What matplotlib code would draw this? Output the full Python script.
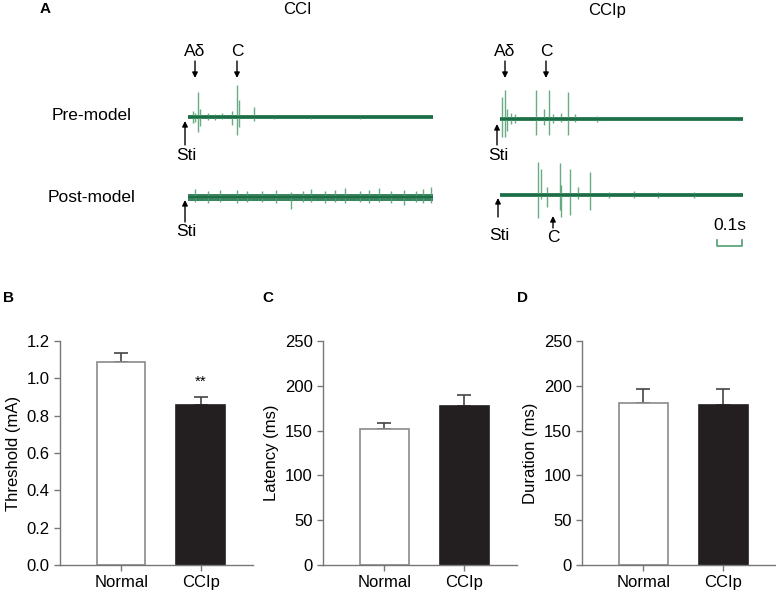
import matplotlib.pyplot as plt
from matplotlib.patches import FancyArrowPatch

plt.rcParams['font.family'] = ['Liberation Sans', 'DejaVu Sans']

# --- panel A: recordings (time in s, spike amplitudes up/down in arbitrary units) ---
trace_len = 1.0
scale_bar_s = 0.1

cci_pre_t = [0.02, 0.03, 0.041, 0.05, 0.08, 0.11, 0.14, 0.18, 0.20, 0.21, 0.27, 0.35, 0.5, 0.7]
cci_pre_up = [6, 4, 25, 8, 4, 3, 4, 6, 32, 17, 10, 2, 2, 2]
cci_pre_dn = [6, 5, 15, 9, 3, 3, 2, 8, 18, 10, 4, 2, 2, 2]

ccip_pre_t = [0.008, 0.02, 0.03, 0.045, 0.06, 0.15, 0.18, 0.20, 0.22, 0.25, 0.28, 0.31, 0.40]
ccip_pre_up = [22, 29, 10, 6, 5, 29, 10, 29, 5, 6, 27, 5, 3]
ccip_pre_dn = [18, 18, 12, 5, 4, 16, 6, 16, 4, 3, 16, 3, 3]

cci_post_t = [0.03, 0.08, 0.13, 0.20, 0.24, 0.30, 0.36, 0.42, 0.47, 0.50, 0.56,
              0.60, 0.64, 0.70, 0.74, 0.78, 0.83, 0.88, 0.93, 0.96, 0.99]
cci_post_up = [8, 6, 7, 7, 6, 6, 7, 5, 6, 8, 6, 7, 9, 6, 7, 9, 6, 7, 6, 8, 10]
cci_post_dn = [5, 6, 5, 6, 5, 5, 6, 12, 5, 5, 6, 5, 6, 5, 6, 5, 6, 8, 5, 6, 6]

ccip_post_t = [0.155, 0.17, 0.195, 0.245, 0.25, 0.29, 0.32, 0.37, 0.45, 0.55, 0.65, 0.8]
ccip_post_up = [33, 26, 8, 32, 10, 26, 8, 23, 3, 4, 3, 3]
ccip_post_dn = [23, 4, 12, 15, 22, 20, 4, 15, 3, 3, 3, 3]

# --- panels B-D: group means and SEM ---
groups = ['Normal', 'CCIp']
threshold = [1.085, 0.855]
threshold_err = [0.053, 0.046]
latency = [152, 177]
latency_err = [7, 13]
duration = [181, 179]
duration_err = [15, 17]

W, H = 776, 590
fig = plt.figure(figsize=(W / 100, H / 100), dpi=100)


def px_axes(left, top, width, height):
    return fig.add_axes([left / W, 1 - (top + height) / H, width / W, height / H])


green = '#1b6e45'
spike_green = '#4f9e70'


def draw_trace(left, base, width, t, up, dn, noise):
    ax = px_axes(left, base - 40, width, 80)
    ax.set_xlim(0, trace_len)
    ax.set_ylim(-40, 40)
    ax.axis('off')
    ax.vlines(t, [-d for d in dn], up, color=spike_green, lw=1.0, alpha=0.85)
    ax.fill_between([0, trace_len], -noise, noise, color=green, alpha=0.85, lw=0)
    ax.plot([0, trace_len], [0, 0], color=green, lw=1.6)
    return ax


draw_trace(188, 117, 245, cci_pre_t, cci_pre_up, cci_pre_dn, 1.6)
draw_trace(188, 197, 245, cci_post_t, cci_post_up, cci_post_dn, 3.5)
draw_trace(500, 119, 243, ccip_pre_t, ccip_pre_up, ccip_pre_dn, 1.6)
ax_sb = draw_trace(500, 195, 243, ccip_post_t, ccip_post_up, ccip_post_dn, 1.8)

# scale bar
sb0 = 0.895
ax_sb.plot([sb0, sb0, sb0 + scale_bar_s, sb0 + scale_bar_s], [-45, -51, -51, -45],
           color=spike_green, lw=1.2, clip_on=False)
ax_sb.text(sb0 + scale_bar_s / 2, -30, '0.1s', ha='center', va='center', fontsize=12.5)

# overlay for labels and arrows (pixel coordinates)
ov = fig.add_axes([0, 0, 1, 1])
ov.set_xlim(0, W)
ov.set_ylim(H, 0)
ov.axis('off')


def arrow(x, y0, y1):
    ov.add_patch(FancyArrowPatch((x, y0), (x, y1), arrowstyle='-|>', mutation_scale=8,
                                 lw=1.0, color='black', shrinkA=0, shrinkB=0))


fs = 12.5
ov.text(45, 9, 'A', fontsize=11, fontweight='bold', ha='center', va='center')
ov.text(297, 10, 'CCI', fontsize=12, ha='center', va='center')
ov.text(607, 10, 'CCIp', fontsize=12, ha='center', va='center')
ov.text(92, 116, 'Pre-model', fontsize=fs, ha='center', va='center')
ov.text(92, 197, 'Post-model', fontsize=fs, ha='center', va='center')

for x, lab in [(195, 'Aδ'), (237, 'C'), (505, 'Aδ'), (546, 'C')]:
    ov.text(x, 51, lab, fontsize=fs, ha='center', va='center')
    arrow(x, 61, 78)

for x, y0, y1, ty in [(185, 145, 121, 156), (185, 222, 200, 232),
                      (497, 145, 124, 156), (498, 217, 198, 236)]:
    arrow(x, y0, y1)
    ov.text(x + 1, ty, 'Sti', fontsize=fs, ha='center', va='center')

arrow(553, 228, 216)
ov.text(553, 237, 'C', fontsize=fs, ha='center', va='center')

# bar panels
panels = [
    ('B', 3, 60, 253, threshold, threshold_err, 'Threshold (mA)', 1.2,
     [0.0, 0.2, 0.4, 0.6, 0.8, 1.0, 1.2], '{:.1f}'),
    ('C', 262, 323, 517, latency, latency_err, 'Latency (ms)', 250,
     [0, 50, 100, 150, 200, 250], '{:d}'),
    ('D', 517, 582, 776, duration, duration_err, 'Duration (ms)', 250,
     [0, 50, 100, 150, 200, 250], '{:d}'),
]
axis_grey = '#777777'
for letter, lx, left, right, vals, errs, ylab, ymax, ticks, fmt in panels:
    ov.text(lx, 298, letter, fontsize=11, fontweight='bold', ha='left', va='center')
    ax = px_axes(left, 341, right - left, 224)
    pos = [0, 1]
    ax.bar(pos, vals, width=0.61, color=['white', '#231f20'],
           edgecolor=['#8a8a8a', '#231f20'], lw=1.2, zorder=2)
    ax.errorbar(pos, vals, yerr=[[0, 0], errs], fmt='none', ecolor='#444444',
                elinewidth=1.2, capsize=5, capthick=1.2, zorder=1)
    ax.set_xlim(-0.77, 1.66)
    ax.set_ylim(0, ymax)
    ax.set_yticks(ticks)
    ax.set_yticklabels([fmt.format(t) for t in ticks])
    ax.set_xticks(pos)
    ax.set_xticklabels(groups)
    ax.set_ylabel(ylab, fontsize=12, labelpad=4)
    ax.tick_params(labelsize=12, color=axis_grey, length=4, width=1)
    for side in ['top', 'right']:
        ax.spines[side].set_visible(False)
    for side in ['left', 'bottom']:
        ax.spines[side].set_color(axis_grey)
        ax.spines[side].set_linewidth(1)
    if letter == 'B':
        ax.text(1, vals[1] + errs[1] + 0.08, '**', ha='center', va='center', fontsize=11)

fig.savefig('out.png', dpi=100)
